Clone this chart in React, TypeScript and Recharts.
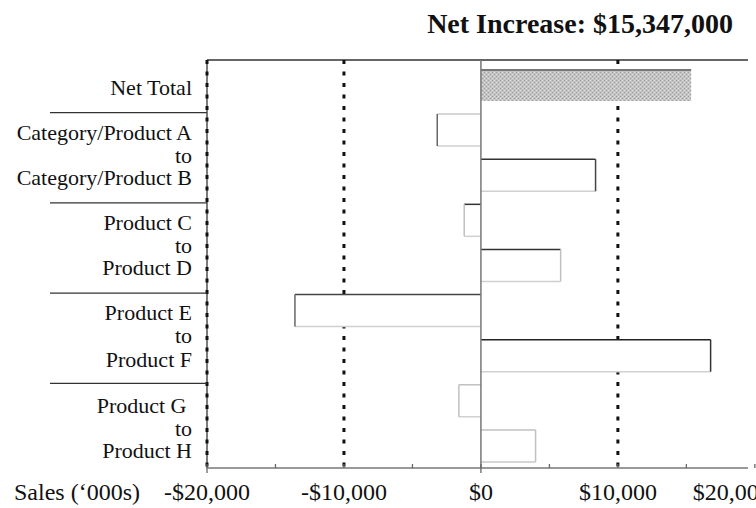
import React from 'react';
import { BarChart, Bar, XAxis, YAxis, CartesianGrid, ReferenceLine } from 'recharts';

const categories = [
  'Net Total',
  'Category/Product A',
  'Category/Product B',
  'Product C',
  'Product D',
  'Product E',
  'Product F',
  'Product G',
  'Product H',
];
const values = [15347, -3190, 8370, -1220, 5820, -13580, 16770, -1610, 3990];
const xDomain = [-20000, 19500];
const xTicks = [-20000, -15000, -10000, -5000, 0, 5000, 10000, 15000, 20000];
const labeledTicks = [-20000, -10000, 0, 10000, 20000];
const dottedLines = [-20000, -10000, 10000];
const groupStarts = ['Category/Product A', 'Product C', 'Product E', 'Product G'];
const title = 'Net Increase: $15,347,000';
const axisTitle = 'Sales (\u2018000s)';

const data = categories.map((name, i) => ({ name, value: values[i] }));

const edgeStyles = [
  null,
  { top: '#c8c8c8', end: '#666', bottom: '#d0d0d0' },
  { top: '#333', end: '#444', bottom: '#d0d0d0' },
  { top: '#333', end: '#c0c0c0', bottom: '#d0d0d0' },
  { top: '#333', end: '#c0c0c0', bottom: '#d0d0d0' },
  { top: '#444', end: '#666', bottom: '#d0d0d0' },
  { top: '#222', end: '#333', bottom: '#d0d0d0' },
  { top: '#c0c0c0', end: '#c0c0c0', bottom: '#d0d0d0' },
  { top: '#c0c0c0', end: '#c0c0c0', bottom: '#c8c8c8' },
];

const FONT = '"Liberation Serif", "Times New Roman", serif';

const fmt = (v: number) => (v < 0 ? '-' : '') + '$' + Math.abs(v).toLocaleString('en-US');

function YTick(props: any) {
  const { x, y, payload, index } = props;
  const name: string = payload.value;
  const isStart = groupStarts.includes(name);
  const label = name === 'Product G' ? 'Product G ' : name;
  const drift = index >= 7 ? 3 : index >= 6 ? 1.5 : 0;
  return (
    <g>
      <text
        x={x}
        y={y + 10 + drift}
        textAnchor="end"
        fontFamily={FONT}
        fontSize={22}
        fill="#111"
        style={{ whiteSpace: 'pre' }}
      >
        {label}
      </text>
      {isStart && (
        <text x={x} y={y + 33 + drift} textAnchor="end" fontFamily={FONT} fontSize={22} fill="#111">
          to
        </text>
      )}
      {isStart && (
        <line x1={x - 142} x2={x + 15} y1={y - 17} y2={y - 17} stroke="#333" strokeWidth={1.3} />
      )}
    </g>
  );
}

function XTick(props: any) {
  const { x, y, payload } = props;
  const v: number = payload.value;
  const longDown = v === -20000 || v === 0;
  const isLast = v === 20000;
  return (
    <g>
      <line x1={x} x2={x} y1={y - 4} y2={y + (longDown ? 5 : 0)} stroke="#666" strokeWidth={1.3} />
      {labeledTicks.includes(v) && (
        <text
          x={isLast ? x - 62 : x}
          y={y + 32}
          textAnchor={isLast ? 'start' : 'middle'}
          fontFamily={FONT}
          fontSize={24}
          fill="#111"
        >
          {fmt(v)}
        </text>
      )}
      {v === -20000 && (
        <text x={x - 67} y={y + 32} textAnchor="end" fontFamily={FONT} fontSize={24} fill="#111">
          {axisTitle}
        </text>
      )}
    </g>
  );
}

function EdgeBar(props: any) {
  const { x, y, width, height, index } = props;
  const left = Math.min(x, x + width);
  const w = Math.abs(width);
  const top = y;
  const h = height;
  if (index === 0) {
    return (
      <g>
        <rect x={left} y={top} width={w} height={h} fill="url(#stipple)" />
        <line x1={left} x2={left + w} y1={top + 1} y2={top + 1} stroke="#777" strokeWidth={2} />
      </g>
    );
  }
  const s = edgeStyles[index] || { top: '#333', end: '#333', bottom: '#ccc' };
  const neg = values[index] < 0;
  const endX = neg ? left : left + w;
  return (
    <g>
      <rect x={left} y={top} width={w} height={h} fill="#fff" />
      <line x1={left} x2={left + w} y1={top + h} y2={top + h} stroke={s.bottom} strokeWidth={1.5} />
      <line x1={left} x2={left + w} y1={top} y2={top} stroke={s.top} strokeWidth={1.5} />
      <line x1={endX} x2={endX} y1={top} y2={top + h} stroke={s.end} strokeWidth={1.5} />
    </g>
  );
}

const dottedGen = ({ xAxis, offset }: any) => {
  const sc = xAxis && xAxis.scale;
  if (typeof sc === 'function') {
    return dottedLines.map((v) => sc(v));
  }
  return dottedLines.map(
    (v) => offset.left + ((v - xDomain[0]) / (xDomain[1] - xDomain[0])) * offset.width
  );
};

export default function App() {
  return (
    <div
      style={{
        position: 'absolute',
        left: 0,
        top: 0,
        width: 756,
        height: 508,
        overflow: 'hidden',
        background: '#fff',
      }}
    >
      <div
        style={{
          position: 'absolute',
          right: 23,
          top: 8,
          fontFamily: FONT,
          fontWeight: 'bold',
          fontSize: 28,
          lineHeight: '32px',
          color: '#111',
          whiteSpace: 'nowrap',
          zIndex: 2,
        }}
      >
        {title}
      </div>
      <BarChart
        width={800}
        height={508}
        data={data}
        layout="vertical"
        margin={{ top: 60, right: 52, bottom: 0, left: 0 }}
        barSize={32}
      >
        <defs>
          <pattern id="stipple" width="4" height="4" patternUnits="userSpaceOnUse">
            <rect width="4" height="4" fill="#c4c4c4" />
            <rect x="0" y="0" width="1" height="1" fill="#9c9c9c" />
            <rect x="2" y="2" width="1" height="1" fill="#9c9c9c" />
            <rect x="2" y="0" width="1" height="1" fill="#dedede" />
            <rect x="0" y="2" width="1" height="1" fill="#dedede" />
          </pattern>
        </defs>
        <CartesianGrid
          stroke="#333"
          strokeWidth={1.3}
          horizontalCoordinatesGenerator={({ offset }: any) => [offset.top]}
          verticalCoordinatesGenerator={({ offset }: any) => [offset.left]}
        />
        <CartesianGrid
          stroke="#111"
          strokeWidth={3}
          strokeDasharray="4 7.5"
          horizontal={false}
          verticalCoordinatesGenerator={dottedGen}
        />
        <XAxis
          type="number"
          domain={xDomain}
          ticks={xTicks}
          interval={0}
          tickSize={0}
          tickMargin={0}
          height={40}
          axisLine={{ stroke: '#777', strokeWidth: 1.3 }}
          tickLine={false}
          tick={(p: any) => <XTick {...p} />}
          allowDataOverflow
        />
        <YAxis
          type="category"
          dataKey="name"
          width={207}
          interval={0}
          tickSize={0}
          tickMargin={15}
          axisLine={false}
          tickLine={false}
          padding={{ top: 2, bottom: 0 }}
          tick={(p: any) => <YTick {...p} />}
        />
        <Bar dataKey="value" isAnimationActive={false} shape={(p: any) => <EdgeBar {...p} />} />
        <ReferenceLine x={0} stroke="#777" strokeWidth={1.5} />
      </BarChart>
    </div>
  );
}
